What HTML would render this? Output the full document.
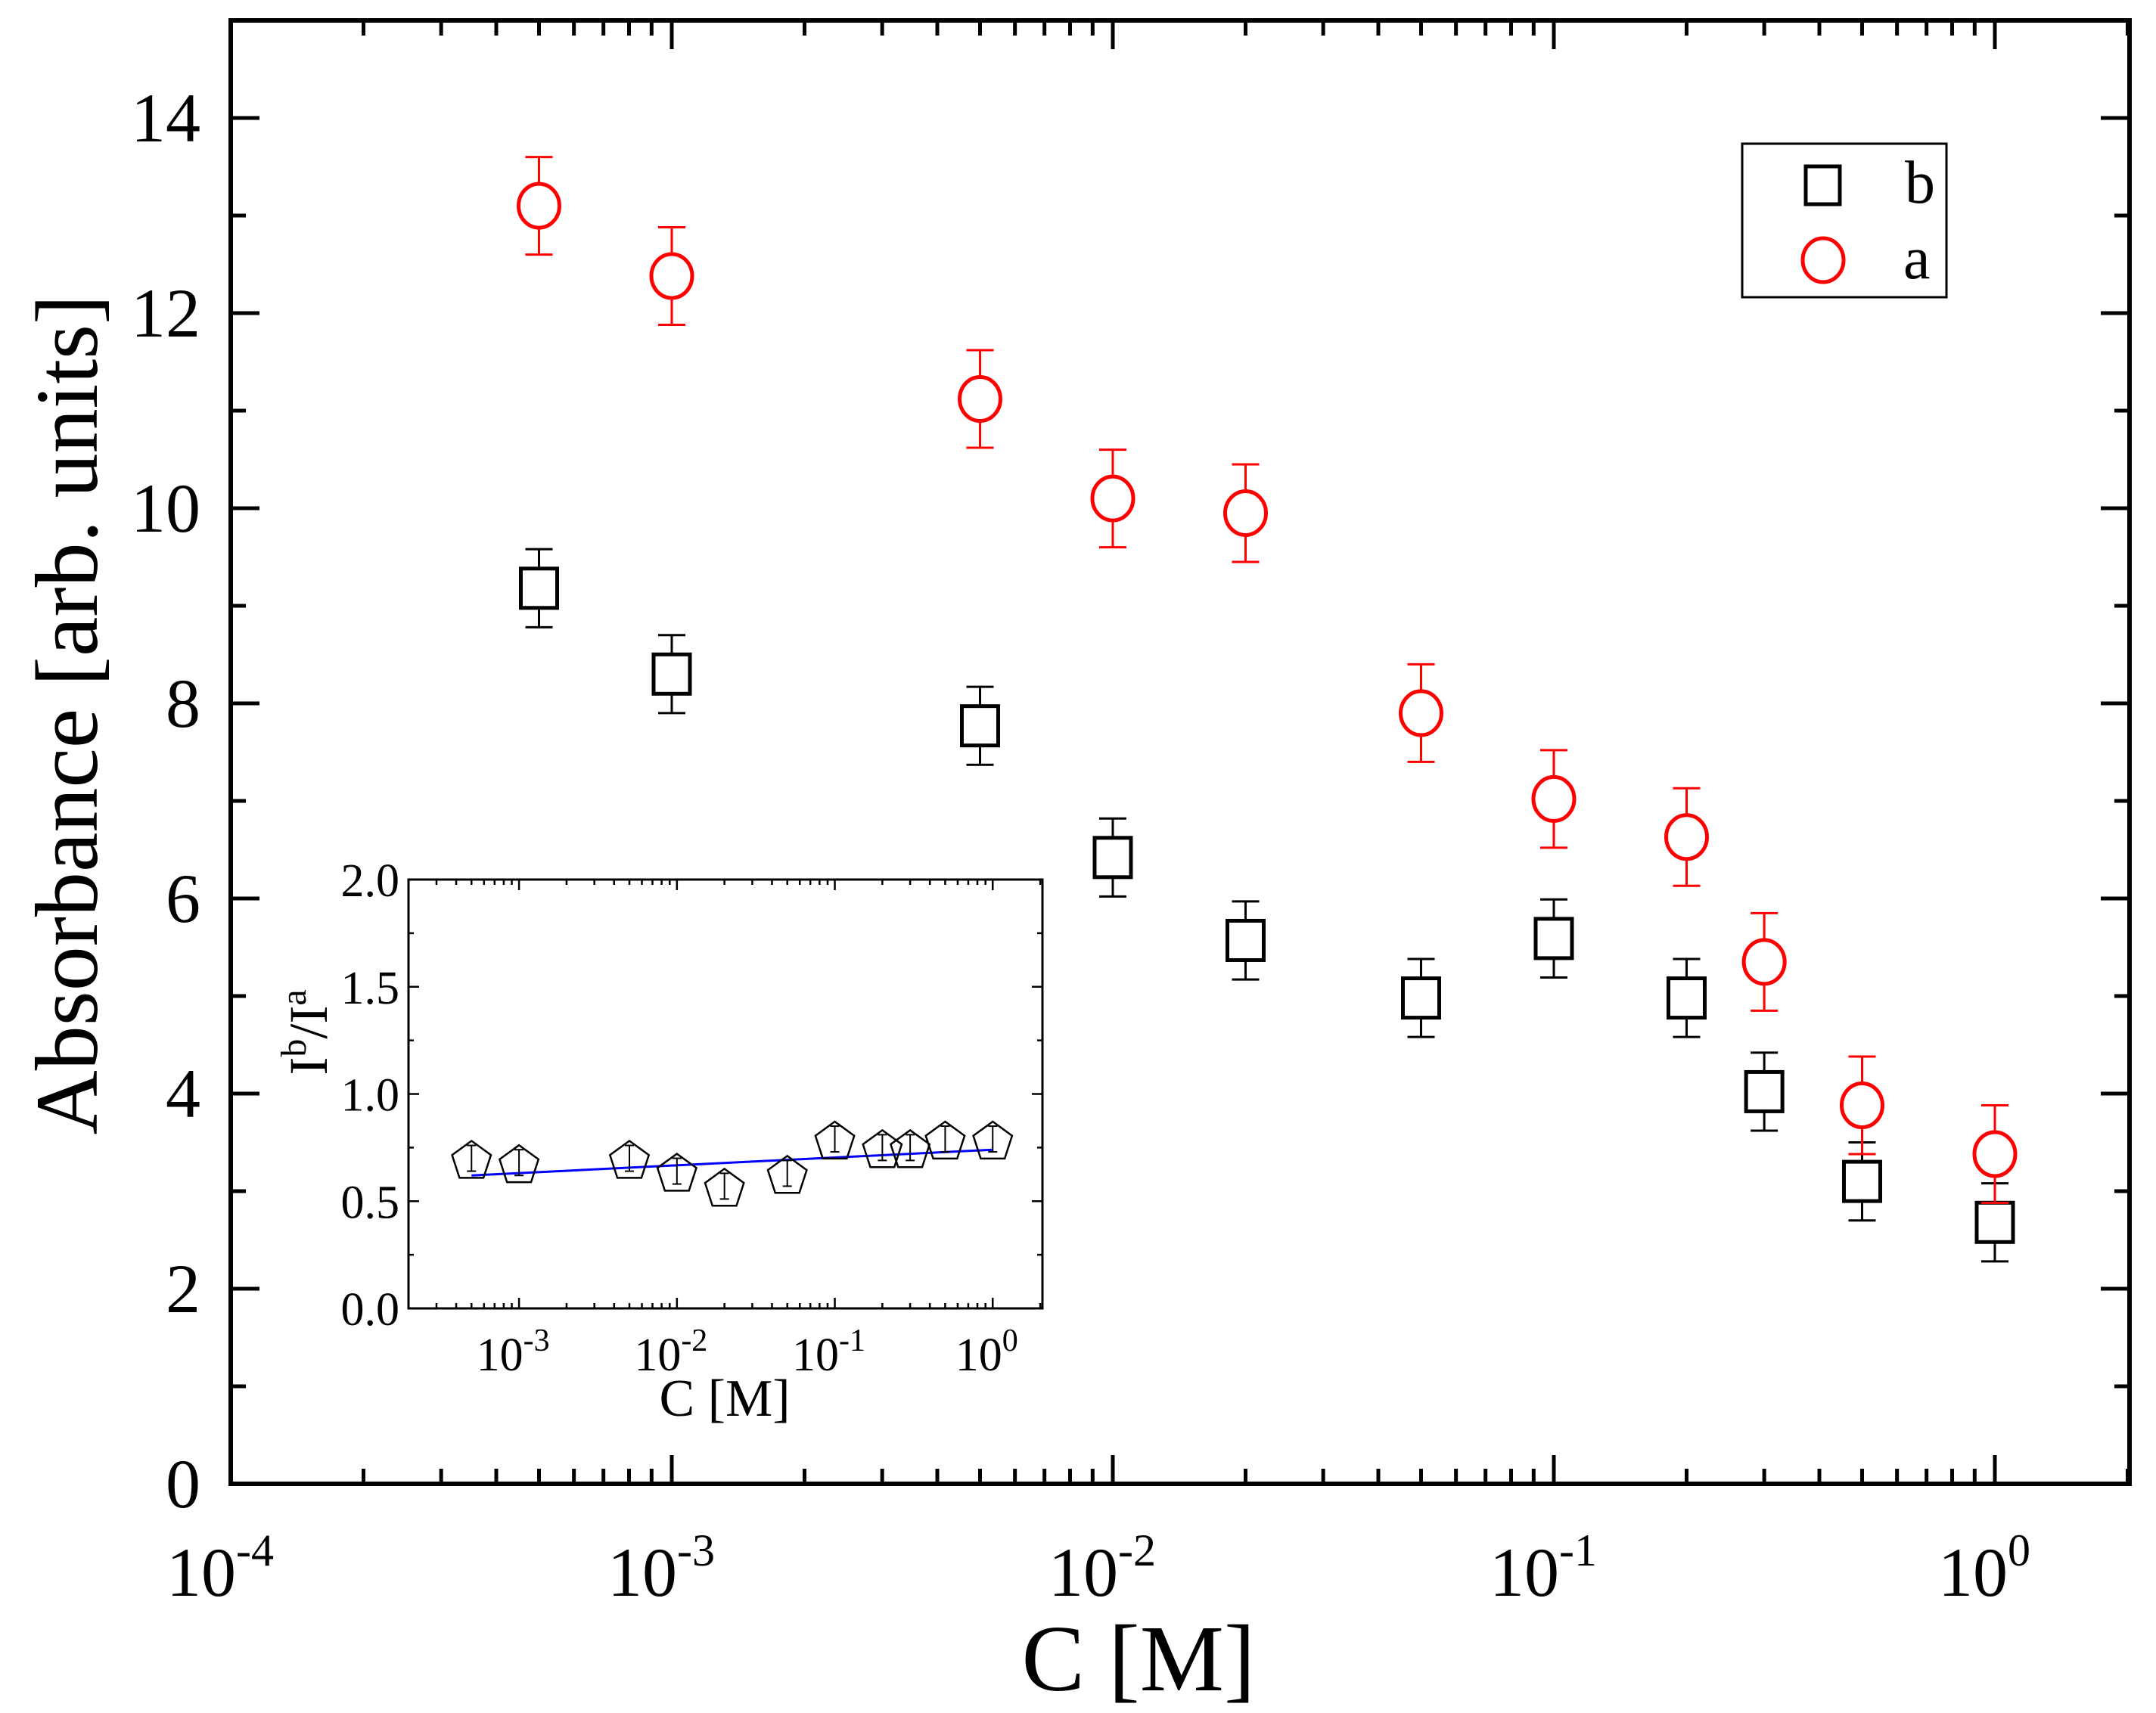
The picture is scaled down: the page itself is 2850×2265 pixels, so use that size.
<!DOCTYPE html>
<html><head><meta charset="utf-8"><style>
html,body{margin:0;padding:0;background:#fff}
svg{display:block}
text{font-family:"Liberation Serif",serif;fill:#000}
</style></head><body>
<svg id="chart" width="2850" height="2265" viewBox="0 0 2850 2265" xmlns="http://www.w3.org/2000/svg">
<g id="main"></g>
<g id="inset"></g>
<g id="legend">
<rect x="2303" y="190" width="270" height="203" fill="#fff" stroke="#000" stroke-width="3"/>
<rect x="2387" y="220" width="45" height="50" fill="none" stroke="#000" stroke-width="5"/>
<text x="2518" y="268" font-size="80">b</text>
<ellipse cx="2410" cy="344" rx="27" ry="29" fill="none" stroke="#f00" stroke-width="5"/>
<text x="2516" y="368" font-size="80">a</text>
</g>
</svg>
<script>
const xCats=[5e-4,1e-3,5e-3,1e-2,2e-2,5e-2,0.1,0.2,0.3,0.5,1];
const seriesA=[13.1,12.38,11.12,10.1,9.95,7.9,7.02,6.63,5.35,3.88,3.38];
const errA=[0.5,0.5,0.5,0.5,0.5,0.5,0.5,0.5,0.5,0.5,0.5];
const seriesB=[9.18,8.3,7.77,6.42,5.57,4.98,5.59,4.98,4.02,3.1,2.68];
const errB=[0.4,0.4,0.4,0.4,0.4,0.4,0.4,0.4,0.4,0.4,0.4];
const yTicks=[0,2,4,6,8,10,12,14];
const xTickExp=[-4,-3,-2,-1,0];
const insetRatio=[0.70,0.68,0.70,0.64,0.57,0.63,0.79,0.75,0.75,0.79,0.79];
const insetErr=[0.06,0.06,0.06,0.06,0.06,0.06,0.06,0.06,0.06,0.06,0.06];
const insetFit=[0.62,0.74];
const insetYTicks=[0,0.5,1.0,1.5,2.0];
const insetXTickExp=[-3,-2,-1,0];

const NS="http://www.w3.org/2000/svg";
function el(tag,attrs,parent){const e=document.createElementNS(NS,tag);for(const k in attrs)e.setAttribute(k,attrs[k]);parent.appendChild(e);return e;}

const M={l:305,r:2815,t:27,b:1962,xmin:-4,xmax:Math.log10(2.02),ymin:0,ymax:15};
const mx=v=>M.l+(Math.log10(v)-M.xmin)/(M.xmax-M.xmin)*(M.r-M.l);
const my=v=>M.b-(v-M.ymin)/(M.ymax-M.ymin)*(M.b-M.t);
const g=document.getElementById('main');
const frame=el('rect',{x:M.l,y:M.t,width:M.r-M.l,height:M.b-M.t,fill:'none',stroke:'#000','stroke-width':6},g);


for(let e=-4;e<=0;e++){
  for(let k=1;k<=9;k++){
    const v=k*Math.pow(10,e); if(Math.log10(v)>M.xmax)break;
    const x=mx(v), len=k===1?38:20;
    el('line',{x1:x,x2:x,y1:M.b,y2:M.b-len,stroke:'#000','stroke-width':5},g);
    el('line',{x1:x,x2:x,y1:M.t,y2:M.t+len,stroke:'#000','stroke-width':5},g);
  }
}
xTickExp.forEach(e=>{
  const t=el('text',{x:mx(Math.pow(10,e))-14,y:2110,'font-size':92,'text-anchor':'middle',transform:'scale(1,1)'},g);
  
  
  t.textContent='10';
  const s=el('tspan',{dy:-40,'font-size':60},t); s.textContent=e===0?'0':String(e);
});
for(let v=0;v<=15;v++){
  const y=my(v), len=v%2===0?38:20;
  el('line',{x1:M.l,x2:M.l+len,y1:y,y2:y,stroke:'#000','stroke-width':5},g);
  el('line',{x1:M.r,x2:M.r-len,y1:y,y2:y,stroke:'#000','stroke-width':5},g);
}
yTicks.forEach(v=>{
  const t=el('text',{x:265,y:my(v)+31,'font-size':92,'text-anchor':'end'},g);
  
  
  t.textContent=String(v);
});
const xt=el('text',{x:1505,y:2235,'font-size':125,'text-anchor':'middle'},g);


xt.textContent='C [M]';
const yt=el('text',{x:0,y:0,'font-size':118,'text-anchor':'middle',transform:'translate(128,945) rotate(-90)'},g);


yt.textContent='Absorbance [arb. units]';
function errbar(x,y,e,fy,color,cap,w,parent){
  el('line',{x1:x,x2:x,y1:fy(y+e),y2:fy(y-e),stroke:color,'stroke-width':w},parent);
  el('line',{x1:x-cap,x2:x+cap,y1:fy(y+e),y2:fy(y+e),stroke:color,'stroke-width':w},parent);
  el('line',{x1:x-cap,x2:x+cap,y1:fy(y-e),y2:fy(y-e),stroke:color,'stroke-width':w},parent);
}
xCats.forEach((c,i)=>{
  const x=mx(c);
  errbar(x,seriesB[i],errB[i],my,'#000',18,3,g);
  const r=el('rect',{x:x-24,y:my(seriesB[i])-26,width:48,height:52,fill:'#fff',stroke:'#000','stroke-width':5},g);
  
  
});
xCats.forEach((c,i)=>{
  const x=mx(c);
  errbar(x,seriesA[i],errA[i],my,'#f00',18,3,g);
  const ci=el('ellipse',{cx:x,cy:my(seriesA[i]),rx:27,ry:29,fill:'#fff',stroke:'#f00','stroke-width':5},g);
  
  
});

const I={l:540,r:1378,t:1163,b:1730,xmin:-3.70,xmax:0.315,ymin:0,ymax:2};
const ix=v=>I.l+(Math.log10(v)-I.xmin)/(I.xmax-I.xmin)*(I.r-I.l);
const iy=v=>I.b-(v-I.ymin)/(I.ymax-I.ymin)*(I.b-I.t);
const h=document.getElementById('inset');
const ifr=el('rect',{x:I.l,y:I.t,width:I.r-I.l,height:I.b-I.t,fill:'#fff',stroke:'#000','stroke-width':3},h);


for(let e=-4;e<=0;e++){
  for(let k=1;k<=9;k++){
    const lv=Math.log10(k*Math.pow(10,e)); if(lv<I.xmin||lv>I.xmax)continue;
    const x=ix(k*Math.pow(10,e)), len=k===1?14:7;
    el('line',{x1:x,x2:x,y1:I.b,y2:I.b-len,stroke:'#000','stroke-width':2.5},h);
    el('line',{x1:x,x2:x,y1:I.t,y2:I.t+len,stroke:'#000','stroke-width':2.5},h);
  }
}
for(let v=0;v<=2.001;v+=0.25){
  const y=iy(v), len=Math.abs(v*2-Math.round(v*2))<0.01?14:7;
  el('line',{x1:I.l,x2:I.l+len,y1:y,y2:y,stroke:'#000','stroke-width':2.5},h);
  el('line',{x1:I.r,x2:I.r-len,y1:y,y2:y,stroke:'#000','stroke-width':2.5},h);
}
insetYTicks.forEach(v=>{
  const t=el('text',{x:528,y:iy(v)+22,'font-size':62,'text-anchor':'end'},h);
  
  
  t.textContent=v.toFixed(1);
});
insetXTickExp.forEach(e=>{
  const t=el('text',{x:ix(Math.pow(10,e))-8,y:1812,'font-size':62,'text-anchor':'middle'},h);
  
  
  t.textContent='10';
  const s=el('tspan',{dy:-26,'font-size':42},t); s.textContent=e===0?'0':String(e);
});
const ixt=el('text',{x:958,y:1872,'font-size':70,'text-anchor':'middle'},h);


ixt.textContent='C [M]';
const iyt=el('text',{x:0,y:0,'font-size':72,'text-anchor':'middle',transform:'translate(432,1365) rotate(-90)'},h);


iyt.textContent='I';
const s1=el('tspan',{dy:-28,'font-size':48},iyt); s1.textContent='b';
const s2=el('tspan',{dy:28},iyt); s2.textContent='/I';
const s3=el('tspan',{dy:-28,'font-size':48},iyt); s3.textContent='a';
const fit=el('line',{x1:ix(xCats[0]),y1:iy(insetFit[0]),x2:ix(xCats[xCats.length-1]),y2:iy(insetFit[1]),stroke:'#00f','stroke-width':3},h);


xCats.forEach((c,i)=>{
  const x=ix(c), y=iy(insetRatio[i]), R=27;
  const pts=[];
  for(let k=0;k<5;k++){const a=-Math.PI/2+k*2*Math.PI/5;pts.push((x+R*Math.cos(a)).toFixed(1)+','+(y+R*Math.sin(a)+4).toFixed(1));}
  const p=el('polygon',{points:pts.join(' '),fill:'none',stroke:'#000','stroke-width':2.5},h);
  
  
  errbar(x,insetRatio[i],insetErr[i],iy,'#000',6,2,h);
});
</script>
</body></html>
